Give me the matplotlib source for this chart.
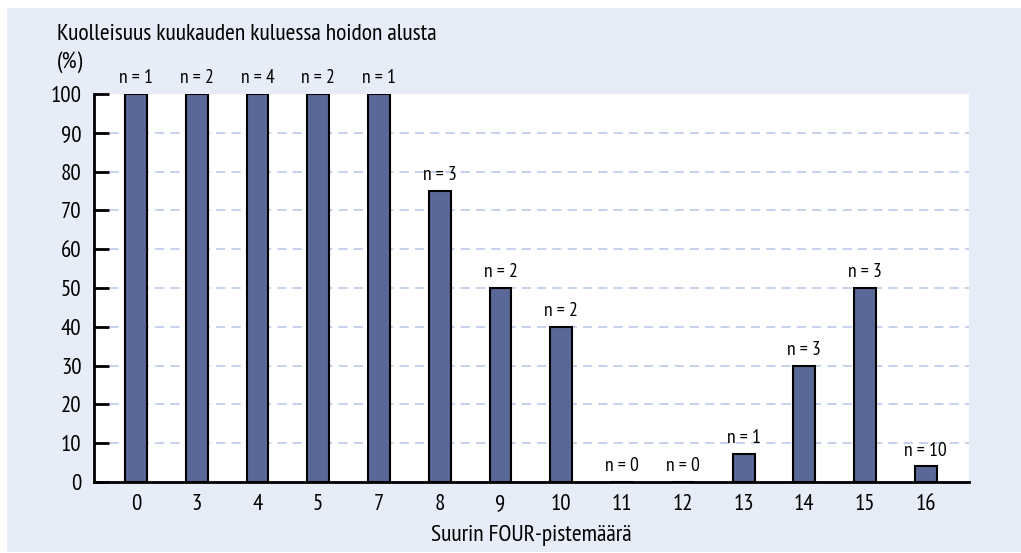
import matplotlib
matplotlib.use('Agg')
from matplotlib import pyplot as plt
from matplotlib.patches import Rectangle

plt.rcParams['font.family'] = ['PT Sans Narrow', 'DejaVu Sans']

# data
scores = ['0', '3', '4', '5', '7', '8', '9', '10', '11', '12', '13', '14', '15', '16']
mortality = [100, 100, 100, 100, 100, 75, 50, 40, 0, 0, 7.3, 30, 50, 4]
n_labels = ['n = 1', 'n = 2', 'n = 4', 'n = 2', 'n = 1', 'n = 3', 'n = 2', 'n = 2',
            'n = 0', 'n = 0', 'n = 1', 'n = 3', 'n = 3', 'n = 10']
yticks = [0, 10, 20, 30, 40, 50, 60, 70, 80, 90, 100]

bg = '#e6edf8'
bar_color = '#5a6898'
grid_color = '#b6c5ea'

fig = plt.figure(figsize=(10.21, 5.53), dpi=100, facecolor='white')
fig.patches.append(Rectangle((7 / 1021, 1 / 553), 1 - 7 / 1021, 544 / 553,
                             transform=fig.transFigure, facecolor=bg,
                             edgecolor='none', zorder=-10))

ax = fig.add_axes([94 / 1021, 71 / 553, 875 / 1021, 388 / 553])
ax.set_facecolor('white')

x = range(len(scores))
ax.bar(x, mortality, width=0.36, color=bar_color, edgecolor='black',
       linewidth=1.5, zorder=3)

for i, (v, lab) in enumerate(zip(mortality, n_labels)):
    ax.annotate(lab, (i, v), xytext=(0, 5), textcoords='offset points',
                ha='center', va='bottom', fontsize=14, annotation_clip=False)

ax.set_xlim(-0.69, 13.71)
ax.set_ylim(0, 100)
ax.set_xticks(list(x))
ax.set_xticklabels(scores)
ax.set_yticks(yticks)
ax.tick_params(axis='x', length=0, pad=9, labelsize=16.5)
ax.tick_params(axis='y', direction='in', length=11, width=2, pad=9, labelsize=16.5)

for t in yticks[1:-1]:
    ax.axhline(t, color=grid_color, linestyle=(0, (6, 4)), linewidth=1.1, zorder=1)

for side in ['top', 'right']:
    ax.spines[side].set_visible(False)
ax.spines['left'].set_linewidth(2)
ax.spines['bottom'].set_linewidth(2)
ax.spines['left'].set_zorder(4)
ax.spines['bottom'].set_zorder(4)

fig.text(57 / 1021, 1 - 35 / 553, 'Kuolleisuus kuukauden kuluessa hoidon alusta',
         ha='left', va='center', fontsize=17)
fig.text(57 / 1021, 1 - 62 / 553, '(%)', ha='left', va='center', fontsize=17)
fig.text(531 / 1021, 1 - 535 / 553, 'Suurin FOUR-pistemäärä',
         ha='center', va='center', fontsize=17)

fig.savefig('out.png', dpi=100, facecolor='white')
